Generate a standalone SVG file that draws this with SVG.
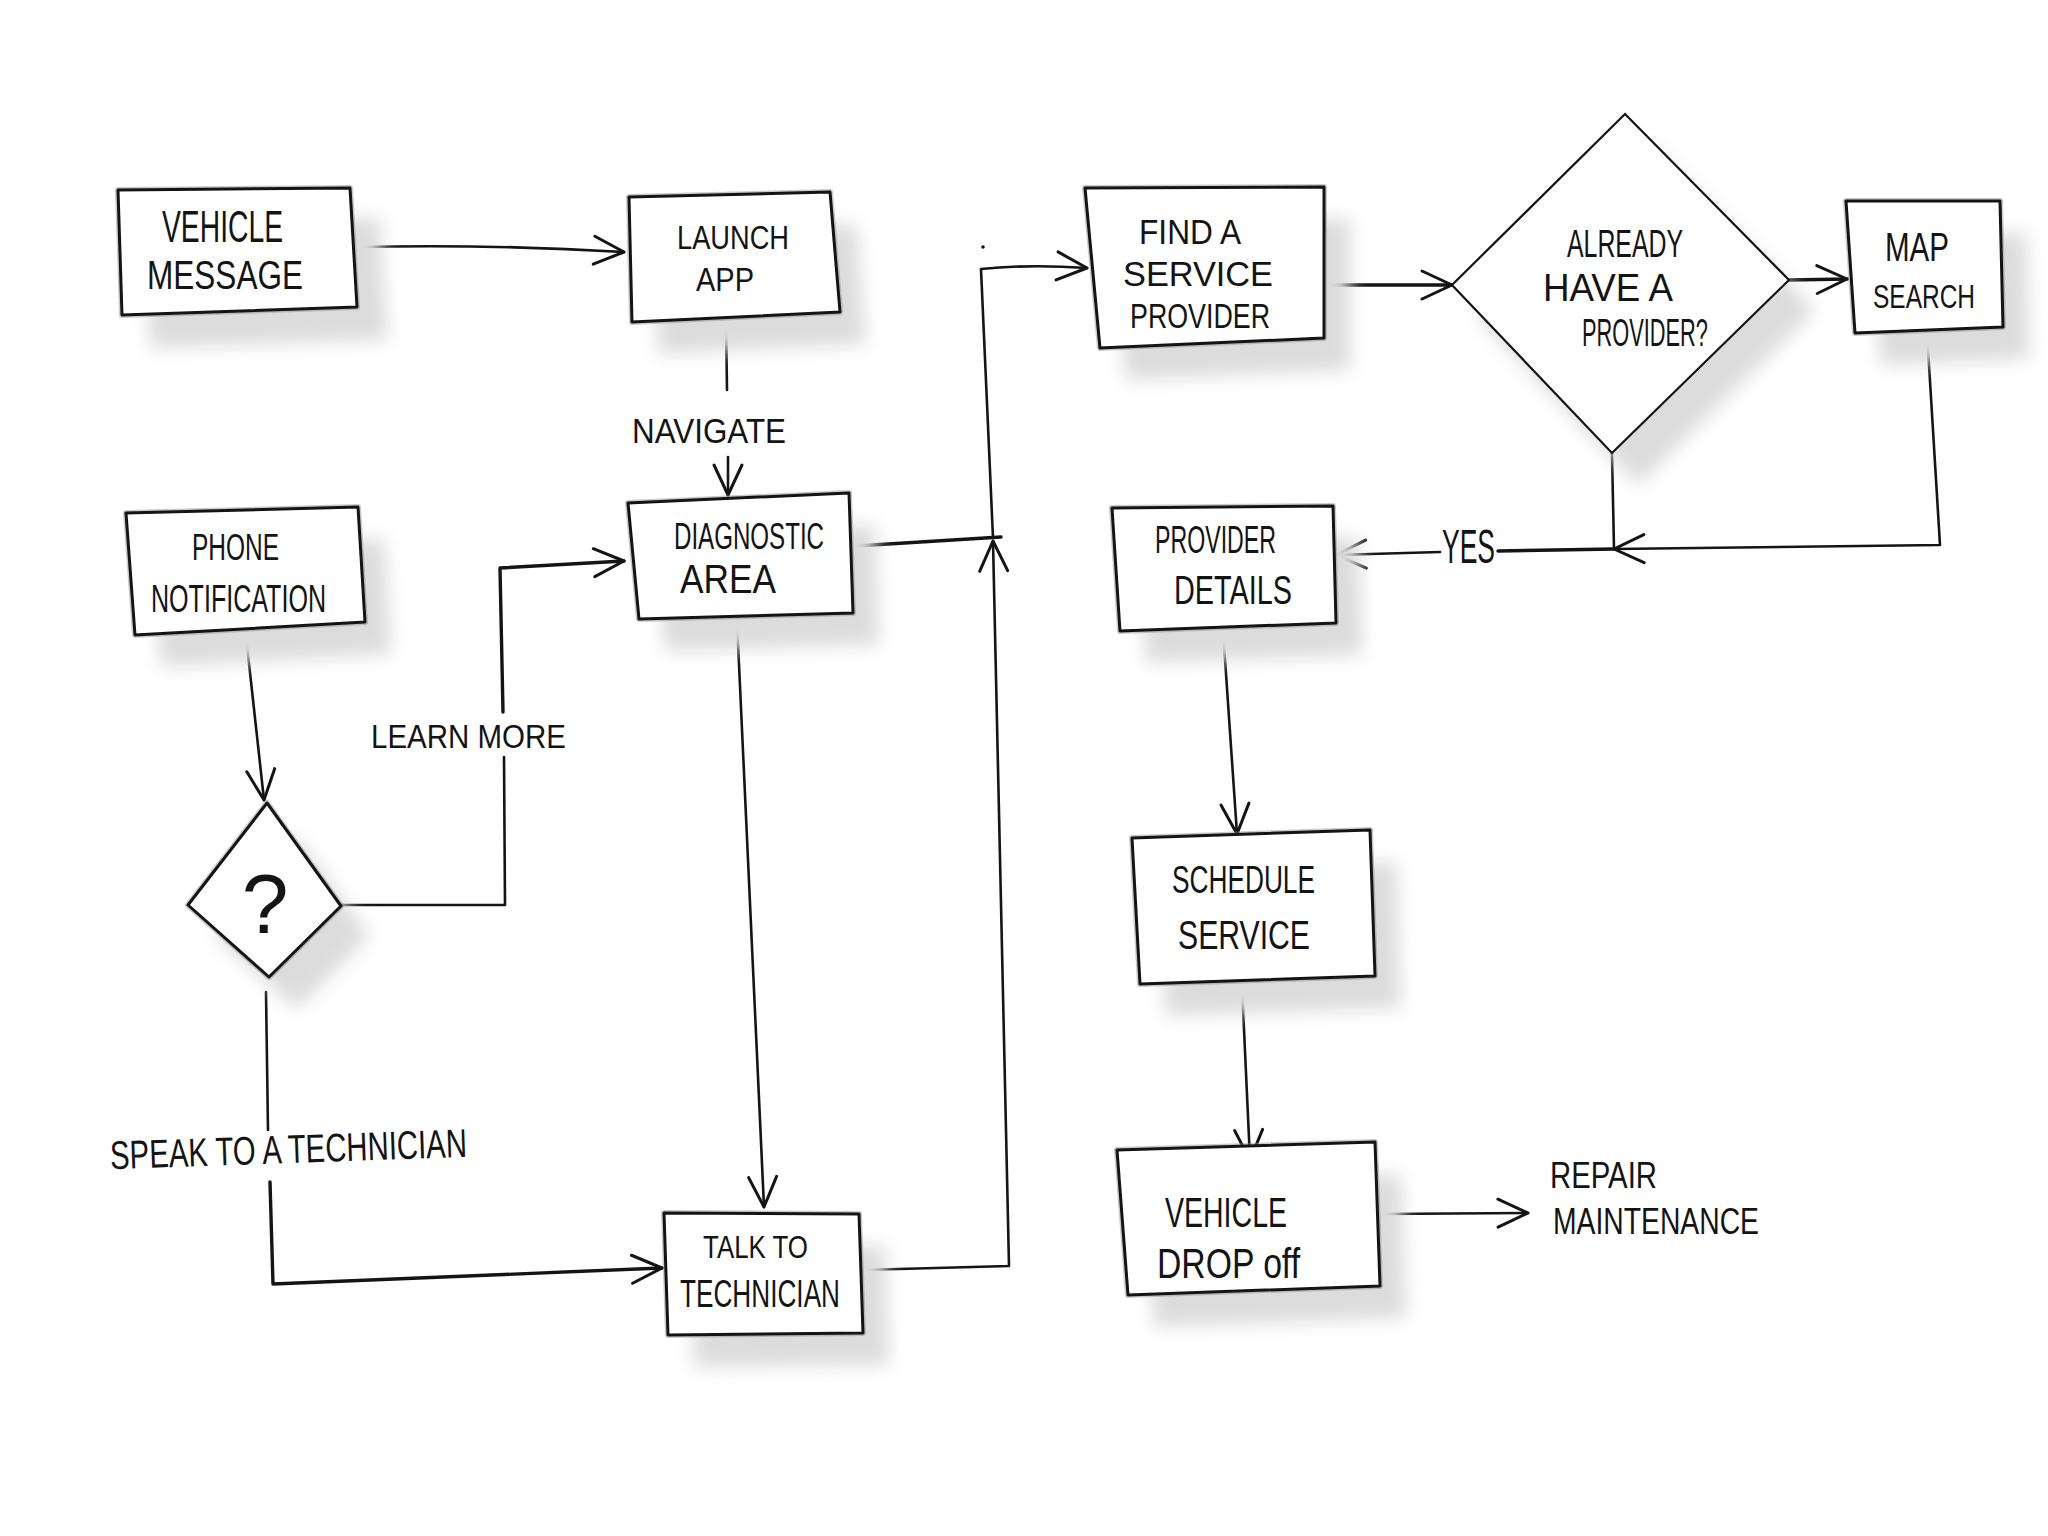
<svg xmlns="http://www.w3.org/2000/svg" width="2048" height="1536" viewBox="0 0 2048 1536">
<defs>
<style>
.bg{fill:#ffffff}
.shadow{fill:#dcdcdc;stroke:none;filter:url(#blur)}
.halo{fill:none;stroke:#8a8a8a;stroke-width:6;stroke-opacity:0.45;stroke-linejoin:round}
.box{fill:#ffffff;stroke:#141414;stroke-width:3;stroke-linejoin:round}
.dia{fill:#ffffff;stroke:#141414;stroke-width:2.2;stroke-linejoin:miter}
.conn{fill:none;stroke:#141414;stroke-width:2.6;stroke-linecap:round;stroke-linejoin:round}
.thick{stroke-width:3.4}
.t{font-family:"Liberation Sans Narrow","Liberation Sans",Arial,sans-serif;fill:#141414;text-anchor:start}
</style>
<filter id="blur" x="-20%" y="-20%" width="140%" height="140%">
<feGaussianBlur stdDeviation="9"/>
</filter>
<marker id="arr" markerUnits="userSpaceOnUse" viewBox="-36 -18 40 36" refX="0" refY="0" markerWidth="40" markerHeight="36" orient="auto">
<path d="M-30,-14 L0,0 L-30,14" fill="none" stroke="#141414" stroke-width="3" stroke-linecap="round" stroke-linejoin="round"/>
</marker>
</defs>
<rect class="bg" x="0" y="0" width="2048" height="1536"/>

<g id="connectors">
<path class="conn" d="M357,247 Q490,244 624,252" marker-end="url(#arr)"/>
<path class="conn" d="M726,318 L727,390"/>
<path class="conn" d="M728,457 L728,495" marker-end="url(#arr)"/>
<path class="conn thick" d="M856,546 L1001,537"/>
<path class="conn" d="M862,1270 L1009,1266 L993,541" marker-end="url(#arr)"/>
<path class="conn" d="M993,538 L981,269 Q1030,264 1087,268" marker-end="url(#arr)"/>
<path class="conn" d="M246,636 L264,800" marker-end="url(#arr)"/>
<path class="conn" d="M341,905 L505,905 L504,757"/>
<path class="conn thick" d="M503,712 L500,568 L624,561" marker-end="url(#arr)"/>
<path class="conn" d="M266,992 L268,1130"/>
<path class="conn thick" d="M270,1182 L273,1284 L662,1268" marker-end="url(#arr)"/>
<path class="conn" d="M737,621 L764,1207" marker-end="url(#arr)"/>
<path class="conn thick" d="M1321,285 L1452,285" marker-end="url(#arr)"/>
<path class="conn thick" d="M1789,280 L1847,279" marker-end="url(#arr)"/>
<path class="conn" d="M1927,332 L1940,545 L1614,549" marker-end="url(#arr)"/>
<path class="conn" d="M1612,453 L1614,549"/>
<path class="conn thick" d="M1614,549 L1498,551"/>
<path class="conn" d="M1440,552 L1336,555" marker-end="url(#arr)"/>
<path class="conn" d="M1223,630 L1237,834" marker-end="url(#arr)"/>
<path class="conn" d="M1242,986 L1250,1160" marker-end="url(#arr)"/>
<path class="conn" d="M1380,1214 L1528,1213" marker-end="url(#arr)"/>
<circle cx="983" cy="247" r="1.8" fill="#141414"/>
</g>

<g id="labels">
<text class="t" x="632" y="443" font-size="35" textLength="154" lengthAdjust="spacingAndGlyphs">NAVIGATE</text>
<text class="t" x="371" y="748" font-size="34" textLength="195" lengthAdjust="spacingAndGlyphs">LEARN MORE</text>
<text class="t" x="110" y="1163" font-size="40" textLength="357" lengthAdjust="spacingAndGlyphs" transform="rotate(-2 288 1150)">SPEAK TO A TECHNICIAN</text>
<text class="t" x="1442" y="563" font-size="48" textLength="53" lengthAdjust="spacingAndGlyphs">YES</text>
<text class="t" x="1550" y="1188" font-size="36" textLength="107" lengthAdjust="spacingAndGlyphs">REPAIR</text>
<text class="t" x="1553" y="1234" font-size="36" textLength="206" lengthAdjust="spacingAndGlyphs">MAINTENANCE</text>
</g>

<g id="vehicle-message">
<polygon class="shadow" points="146,222 380,218 387,340 150,348"/>
<polygon class="halo" points="118,190 350,188 357,307 122,315"/>
<polygon class="box" points="118,190 350,188 357,307 122,315"/>
<text class="t" x="162" y="242" font-size="44" textLength="121" lengthAdjust="spacingAndGlyphs">VEHICLE</text>
<text class="t" x="147" y="289" font-size="40" textLength="156" lengthAdjust="spacingAndGlyphs">MESSAGE</text>
</g>

<g id="launch-app">
<polygon class="shadow" points="655,229 856,224 866,344 658,354"/>
<polygon class="halo" points="629,197 830,192 840,312 632,322"/>
<polygon class="box" points="629,197 830,192 840,312 632,322"/>
<text class="t" x="677" y="249" font-size="34" textLength="112" lengthAdjust="spacingAndGlyphs">LAUNCH</text>
<text class="t" x="696" y="291" font-size="34" textLength="58" lengthAdjust="spacingAndGlyphs">APP</text>
</g>

<g id="phone-notification">
<polygon class="shadow" points="152,545 384,539 391,654 161,667"/>
<polygon class="halo" points="126,513 358,507 365,622 135,635"/>
<polygon class="box" points="126,513 358,507 365,622 135,635"/>
<text class="t" x="192" y="560" font-size="36" textLength="87" lengthAdjust="spacingAndGlyphs">PHONE</text>
<text class="t" x="151" y="612" font-size="38" textLength="175" lengthAdjust="spacingAndGlyphs">NOTIFICATION</text>
</g>

<g id="diagnostic-area">
<polygon class="shadow" points="654,535 875,525 879,645 665,651"/>
<polygon class="halo" points="628,503 849,493 853,613 639,619"/>
<polygon class="box" points="628,503 849,493 853,613 639,619"/>
<text class="t" x="674" y="549" font-size="36" textLength="150" lengthAdjust="spacingAndGlyphs">DIAGNOSTIC</text>
<text class="t" x="680" y="593" font-size="40" textLength="96" lengthAdjust="spacingAndGlyphs">AREA</text>
</g>

<g id="decision-question">
<polygon class="shadow" points="295,835 369,936 297,1009 216,937"/>
<polygon class="halo" points="267,803 341,906 269,977 188,905"/>
<polygon class="box" points="267,803 341,906 269,977 188,905"/>
<text class="t" x="265" y="933" font-size="84" style="text-anchor:middle">?</text>
</g>

<g id="talk-to-technician">
<polygon class="shadow" points="690,1245 885,1246 889,1365 694,1367"/>
<polygon class="halo" points="664,1213 859,1214 863,1333 668,1335"/>
<polygon class="box" points="664,1213 859,1214 863,1333 668,1335"/>
<text class="t" x="703" y="1258" font-size="32" textLength="105" lengthAdjust="spacingAndGlyphs">TALK TO</text>
<text class="t" x="680" y="1307" font-size="38" textLength="160" lengthAdjust="spacingAndGlyphs">TECHNICIAN</text>
</g>

<g id="find-service-provider">
<polygon class="shadow" points="1111,220 1350,219 1350,370 1126,380"/>
<polygon class="halo" points="1085,188 1324,187 1324,338 1100,348"/>
<polygon class="box" points="1085,188 1324,187 1324,338 1100,348"/>
<text class="t" x="1139" y="244" font-size="35" textLength="102" lengthAdjust="spacingAndGlyphs">FIND A</text>
<text class="t" x="1123" y="286" font-size="35" textLength="150" lengthAdjust="spacingAndGlyphs">SERVICE</text>
<text class="t" x="1130" y="328" font-size="35" textLength="140" lengthAdjust="spacingAndGlyphs">PROVIDER</text>
</g>

<g id="already-have-provider">
<polygon class="shadow" points="1650,145 1815,310 1638,485 1478,317"/>
<polygon class="dia" points="1625,114 1789,280 1612,453 1452,285"/>
<text class="t" x="1567" y="257" font-size="38" textLength="116" lengthAdjust="spacingAndGlyphs">ALREADY</text>
<text class="t" x="1543" y="301" font-size="38" textLength="130" lengthAdjust="spacingAndGlyphs">HAVE A</text>
<text class="t" x="1582" y="346" font-size="38" textLength="126" lengthAdjust="spacingAndGlyphs">PROVIDER?</text>
</g>

<g id="map-search">
<polygon class="shadow" points="1872,233 2026,233 2029,359 1881,365"/>
<polygon class="halo" points="1846,201 2000,201 2003,327 1855,333"/>
<polygon class="box" points="1846,201 2000,201 2003,327 1855,333"/>
<text class="t" x="1885" y="261" font-size="40" textLength="64" lengthAdjust="spacingAndGlyphs">MAP</text>
<text class="t" x="1873" y="308" font-size="34" textLength="102" lengthAdjust="spacingAndGlyphs">SEARCH</text>
</g>

<g id="provider-details">
<polygon class="shadow" points="1138,540 1359,538 1362,655 1146,663"/>
<polygon class="halo" points="1112,508 1333,506 1336,623 1120,631"/>
<polygon class="box" points="1112,508 1333,506 1336,623 1120,631"/>
<text class="t" x="1155" y="553" font-size="38" textLength="121" lengthAdjust="spacingAndGlyphs">PROVIDER</text>
<text class="t" x="1174" y="604" font-size="40" textLength="118" lengthAdjust="spacingAndGlyphs">DETAILS</text>
</g>

<g id="schedule-service">
<polygon class="shadow" points="1158,870 1396,862 1401,1008 1166,1016"/>
<polygon class="halo" points="1132,838 1370,830 1375,976 1140,984"/>
<polygon class="box" points="1132,838 1370,830 1375,976 1140,984"/>
<text class="t" x="1172" y="893" font-size="38" textLength="143" lengthAdjust="spacingAndGlyphs">SCHEDULE</text>
<text class="t" x="1178" y="949" font-size="40" textLength="132" lengthAdjust="spacingAndGlyphs">SERVICE</text>
</g>

<g id="vehicle-drop-off">
<polygon class="shadow" points="1143,1182 1401,1174 1406,1318 1154,1327"/>
<polygon class="halo" points="1117,1150 1375,1142 1380,1286 1128,1295"/>
<polygon class="box" points="1117,1150 1375,1142 1380,1286 1128,1295"/>
<text class="t" x="1165" y="1227" font-size="42" textLength="122" lengthAdjust="spacingAndGlyphs">VEHICLE</text>
<text class="t" x="1157" y="1278" font-size="42" textLength="143" lengthAdjust="spacingAndGlyphs">DROP  off</text>
</g>
</svg>
